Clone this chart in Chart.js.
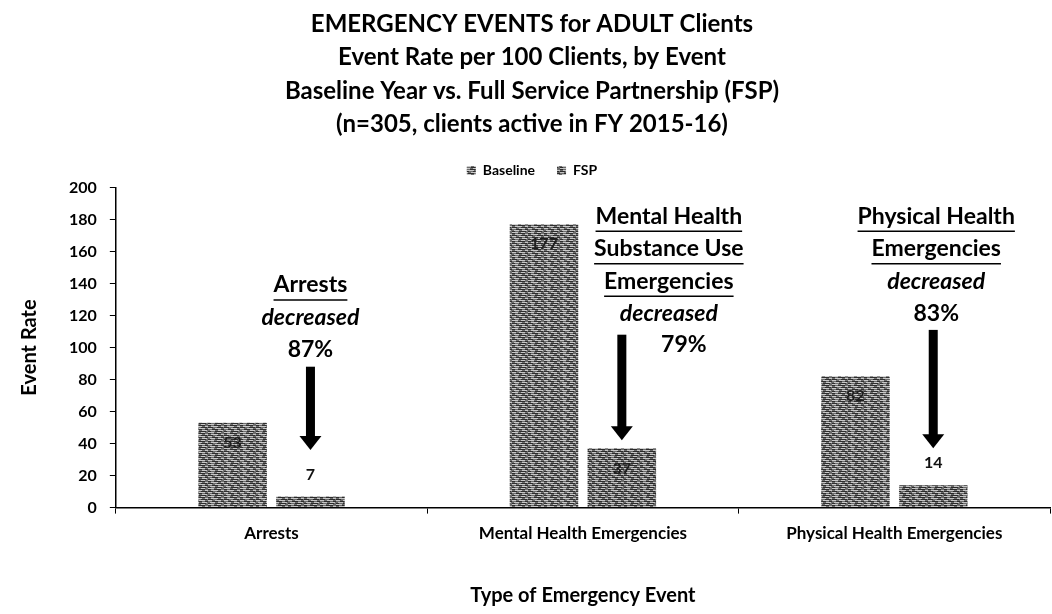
<!DOCTYPE html>
<html>
<head>
<meta charset="utf-8">
<script src="https://cdn.jsdelivr.net/npm/chart.js@4.4.1/dist/chart.umd.min.js"></script>
<style>
  html, body { margin: 0; padding: 0; background: #fff; }
  #wrap { width: 1052px; height: 614px; }
</style>
</head>
<body>
<div id="wrap"><canvas id="myChart"></canvas></div>
<script>
var categories = ['Arrests', 'Mental Health Emergencies', 'Physical Health Emergencies'];
var baseline = [53, 177, 82];
var fsp = [7, 37, 14];
var yTicks = [0, 20, 40, 60, 80, 100, 120, 140, 160, 180, 200];
var titleLines = [
    'EMERGENCY EVENTS for ADULT Clients',
    'Event Rate per 100 Clients, by Event',
    'Baseline Year vs. Full Service Partnership (FSP)',
    '(n=305, clients active in FY 2015-16)'
];
// note text for each category, u = underlined, i = italic
var notes = [
    [['Arrests', 'u'], ['decreased', 'i'], ['87%', 'n']],
    [['Mental Health', 'u'], ['Substance Use', 'u'], ['Emergencies', 'u'], ['decreased', 'i']],
    [['Physical Health', 'u'], ['Emergencies', 'u'], ['decreased', 'i'], ['83%', 'n']]
];

var FONT = 'Lato, "Open Sans", sans-serif';

// grey scanned-looking texture, short dashes in rows
function makePattern(base, dark, light) {
    var c = document.createElement('canvas');
    c.width = 16; c.height = 8;
    var g = c.getContext('2d');
    g.fillStyle = base; g.fillRect(0, 0, 16, 8);
    g.fillStyle = light;
    g.fillRect(0, 0, 6, 1); g.fillRect(9, 0, 4, 1);
    g.fillRect(3, 2, 7, 1); g.fillRect(13, 2, 3, 1);
    g.fillRect(0, 4, 4, 1); g.fillRect(7, 4, 6, 1);
    g.fillRect(2, 6, 5, 1); g.fillRect(10, 6, 5, 1);
    g.fillStyle = dark;
    g.fillRect(6, 1, 7, 1); g.fillRect(0, 1, 3, 1);
    g.fillRect(0, 3, 5, 1); g.fillRect(9, 3, 6, 1);
    g.fillRect(4, 5, 6, 1); g.fillRect(13, 5, 3, 1);
    g.fillRect(0, 7, 3, 1); g.fillRect(7, 7, 7, 1);
    return g.createPattern(c, 'repeat');
}
var ctx = document.getElementById('myChart').getContext('2d');
var patBase = makePattern('#6e6e6e', '#2e2e2e', '#c8c8c8');
var patFsp = makePattern('#6a6a6a', '#2a2a2a', '#c4c4c4');

var valueLabels = {
    id: 'valueLabels',
    afterDatasetsDraw: function (chart) {
        var c = chart.ctx;
        c.save();
        c.textAlign = 'center';
        c.textBaseline = 'middle';
        c.font = 'bold 16px ' + FONT;
        chart.data.datasets.forEach(function (ds, di) {
            var meta = chart.getDatasetMeta(di);
            meta.data.forEach(function (bar, i) {
                var h = bar.base - bar.y;
                if (h < 25) {
                    c.fillStyle = '#111';
                    c.fillText(ds.data[i], bar.x, bar.y - 22);
                } else {
                    c.fillStyle = '#1e1e1e';
                    c.fillText(ds.data[i], bar.x, bar.y + 20);
                }
            });
        });
        c.restore();
    }
};

var callouts = {
    id: 'callouts',
    afterDatasetsDraw: function (chart) {
        var c = chart.ctx;
        var y = chart.scales.y;
        var fspMeta = chart.getDatasetMeta(1);
        // text offset from FSP bar, first line value, arrow from/to values
        var spots = [
            { dx: 0, top: 139, arrowTop: 88, arrowEnd: 36 },
            { dx: 47, top: 182, arrowTop: 108, arrowEnd: 42 },
            { dx: 3, top: 182, arrowTop: 111, arrowEnd: 37 }
        ];
        c.save();
        c.textAlign = 'center';
        c.textBaseline = 'middle';
        c.fillStyle = '#000';
        c.strokeStyle = '#000';
        notes.forEach(function (lines, i) {
            var bx = fspMeta.data[i].x;
            var s = spots[i];
            var ty = y.getPixelForValue(s.top);
            lines.forEach(function (ln, k) {
                var yy = ty + k * 32.5;
                c.font = (ln[1] == 'i' ? 'italic bold ' : 'bold ') + '23px ' + FONT;
                c.fillText(ln[0], bx + s.dx, yy);
                if (ln[1] == 'u') {
                    var w = c.measureText(ln[0]).width;
                    c.lineWidth = 1.5;
                    c.beginPath();
                    c.moveTo(bx + s.dx - w / 2, yy + 15);
                    c.lineTo(bx + s.dx + w / 2, yy + 15);
                    c.stroke();
                }
            });
            // arrow
            var a0 = y.getPixelForValue(s.arrowTop);
            var a1 = y.getPixelForValue(s.arrowEnd);
            c.fillRect(bx - 4.5, a0, 9, a1 - a0 - 12);
            c.beginPath();
            c.moveTo(bx - 11, a1 - 14);
            c.lineTo(bx + 11, a1 - 14);
            c.lineTo(bx, a1);
            c.closePath();
            c.fill();
        });
        // 79% sits beside the middle arrow
        c.font = 'bold 23px ' + FONT;
        c.fillText('79%', fspMeta.data[1].x + 62, y.getPixelForValue(102));
        c.restore();
    }
};

new Chart(ctx, {
    type: 'bar',
    data: {
        labels: categories,
        datasets: [{
            label: 'Baseline',
            data: baseline,
            backgroundColor: patBase,
            borderWidth: 0,
            categoryPercentage: 0.5,
            barPercentage: 0.88
        }, {
            label: 'FSP',
            data: fsp,
            backgroundColor: patFsp,
            borderWidth: 0,
            categoryPercentage: 0.5,
            barPercentage: 0.88
        }]
    },
    options: {
        responsive: true,
        maintainAspectRatio: false,
        animation: false,
        layout: { padding: { left: 14, right: 2, top: 4, bottom: 6 } },
        plugins: {
            title: {
                display: true,
                text: titleLines,
                color: '#000',
                font: { family: FONT, size: 24, weight: 'bold', lineHeight: 1.4 },
                padding: { top: 3, bottom: 0 }
            },
            legend: {
                display: true,
                position: 'top',
                labels: {
                    color: '#000',
                    font: { family: FONT, size: 14, weight: 'bold' },
                    boxWidth: 9,
                    boxHeight: 9,
                    padding: 22
                }
            },
            tooltip: { enabled: false }
        },
        scales: {
            x: {
                grid: { display: true, drawOnChartArea: false, color: '#000', tickLength: 6, offset: true },
                border: { display: true, color: '#000', width: 1.5 },
                ticks: { color: '#000', font: { family: FONT, size: 17, weight: 'bold' }, padding: 10 },
                title: {
                    display: true,
                    text: 'Type of Emergency Event',
                    color: '#000',
                    font: { family: FONT, size: 20, weight: 'bold' },
                    padding: { top: 30, bottom: 0 }
                }
            },
            y: {
                min: 0,
                max: 200,
                afterBuildTicks: function (axis) {
                    axis.ticks = yTicks.map(function (v) { return { value: v }; });
                },
                grid: { display: true, drawOnChartArea: false, color: '#000', tickLength: 6 },
                border: { display: true, color: '#000', width: 1.5 },
                ticks: { color: '#000', font: { family: FONT, size: 16, weight: 'bold' }, padding: 13 },
                title: {
                    display: true,
                    text: 'Event Rate',
                    color: '#000',
                    font: { family: FONT, size: 20, weight: 'bold' },
                    padding: { bottom: 14 }
                }
            }
        }
    },
    plugins: [valueLabels, callouts]
});
</script>
</body>
</html>
